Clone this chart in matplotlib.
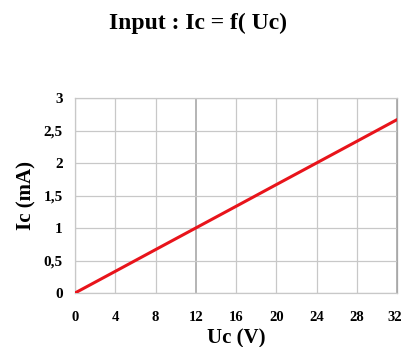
import matplotlib
matplotlib.use("Agg")
import matplotlib.pyplot as plt
import matplotlib.transforms as mtransforms
from matplotlib.ticker import FuncFormatter

uc = [0, 4, 8, 12, 16, 20, 24, 28, 32]
ic = [0, 0.333, 0.667, 1.0, 1.333, 1.667, 2.0, 2.333, 2.667]
xticks = [0, 4, 8, 12, 16, 20, 24, 28, 32]
yticks = [0, 0.5, 1, 1.5, 2, 2.5, 3]

plt.rcParams['font.family'] = ['Liberation Serif', 'DejaVu Serif']

fig = plt.figure(figsize=(4.03, 3.47), dpi=100)
ax = fig.add_axes([75/403, 54/347, 322/403, 195/347])
ax.plot(uc, ic, color='#e8141b', lw=2.2, solid_capstyle='round', zorder=3)
ax.set_xlim(0, 32)
ax.set_ylim(0, 3)
ax.set_xticks(xticks)
ax.set_yticks(yticks)
ax.yaxis.set_major_formatter(FuncFormatter(lambda v, p: ('%g' % v).replace('.', ',')))
ax.grid(True, color='#c8c8c8', lw=0.9)
for i, gl in enumerate(ax.get_xgridlines()):
    if xticks[i] in (12, 32):
        gl.set_color('#a8a8a8')
        gl.set_linewidth(1.2)
for s in ax.spines.values():
    s.set_color('#c8c8c8')
    s.set_linewidth(0.9)
ax.spines['right'].set_color('#a8a8a8')
ax.tick_params(axis='x', length=0, pad=13, labelsize=10.5)
ax.tick_params(axis='y', length=0, pad=9, labelsize=11)
for lab in ax.get_xticklabels() + ax.get_yticklabels():
    lab.set_fontweight('bold')
last = ax.get_xticklabels()[-1]
last.set_transform(last.get_transform() + mtransforms.ScaledTranslation(-2/100, 0, fig.dpi_scale_trans))
ax.set_xlabel('Uc (V)', fontsize=15, fontweight='bold', labelpad=3)
ax.set_ylabel('Ic (mA)', fontsize=15, fontweight='bold', labelpad=5)
fig.text(198/403, 1 - 23/347, 'Input : Ic = f( Uc)', ha='center', va='center', fontsize=17, fontweight='bold')
fig.savefig('out.png', dpi=100)
